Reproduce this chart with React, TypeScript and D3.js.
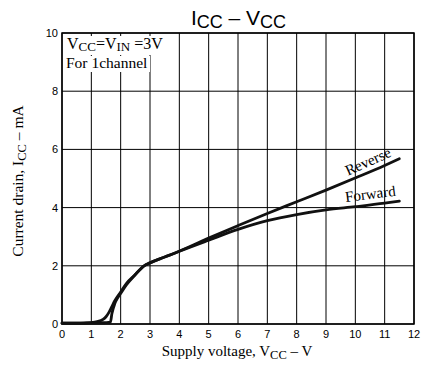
import React from "react";
import * as d3 from "d3";

const xTicks = [0, 1, 2, 3, 4, 5, 6, 7, 8, 9, 10, 11, 12];
const yTicks = [0, 2, 4, 6, 8, 10];
const yGrid = [0, 2, 4, 6, 8, 10];

const forwardV = [0, 0.5, 1.0, 1.5, 1.65, 1.7, 1.8, 1.9, 2.0, 2.2, 2.5, 2.8, 3.0, 3.5, 4, 5, 6, 7, 8, 9, 10, 11, 11.5];
const forwardI = [0.03, 0.03, 0.04, 0.05, 0.06, 0.35, 0.7, 0.9, 1.05, 1.35, 1.7, 2.0, 2.1, 2.3, 2.5, 2.88, 3.25, 3.55, 3.76, 3.92, 4.03, 4.15, 4.22];
const reverseV = [0, 0.5, 1.0, 1.2, 1.4, 1.5, 1.6, 1.7, 1.8, 2.0, 2.2, 2.5, 2.8, 3.0, 3.5, 4, 5, 6, 7, 8, 9, 10, 11, 11.5];
const reverseI = [0.03, 0.03, 0.05, 0.08, 0.16, 0.25, 0.4, 0.6, 0.8, 1.1, 1.4, 1.7, 2.0, 2.1, 2.3, 2.5, 2.95, 3.38, 3.8, 4.2, 4.6, 5.02, 5.45, 5.68];

export default function App() {
  const W = 438, H = 369;
  const L = 62, R = 414, T = 33, B = 324;
  const x = d3.scaleLinear().domain([0, 12]).range([L, R]);
  const y = d3.scaleLinear().domain([0, 10]).range([B, T]);
  const line = d3.line<[number, number]>().x(d => x(d[0])).y(d => y(d[1])).curve(d3.curveMonotoneX);
  const fwd = forwardV.map((v, i) => [v, forwardI[i]] as [number, number]);
  const rev = reverseV.map((v, i) => [v, reverseI[i]] as [number, number]);
  const sans = "Liberation Sans, Arial, sans-serif";
  const serif = "Liberation Serif, Times New Roman, serif";
  return (
    <svg width={W} height={H} style={{ position: "absolute", left: 0, top: 0, background: "#fff" }}>
      <rect x={0} y={0} width={W} height={H} fill="#fff" />
      {xTicks.map(t => (
        <line key={"gx" + t} x1={x(t)} x2={x(t)} y1={T} y2={B} stroke="#000" strokeWidth={1} />
      ))}
      {yGrid.map(t => (
        <line key={"gy" + t} x1={L} x2={R} y1={y(t)} y2={y(t)} stroke="#000" strokeWidth={1} />
      ))}
      <rect x={L} y={T} width={R - L} height={B - T} fill="none" stroke="#000" strokeWidth={1.5} />
      {/* annotation */}
      <rect x={L + 2} y={T + 3} width={108} height={19} fill="#fff" />
      <rect x={L + 2} y={T + 23} width={86} height={16} fill="#fff" />
      <text x={L + 5} y={T + 16} fontFamily={serif} fontSize={16} fill="#000">
        V<tspan fontSize={13} dy={2}>CC</tspan><tspan dy={-2}>=V</tspan><tspan fontSize={13} dy={2}>IN</tspan><tspan dy={-2}> =3V</tspan>
      </text>
      <text x={L + 4} y={T + 35} fontFamily={serif} fontSize={15.5} fill="#000">For 1channel</text>
      {/* curves */}
      <path d={line(rev) || ""} fill="none" stroke="#111" strokeWidth={2.8} strokeLinejoin="round" strokeLinecap="round" />
      <path d={line(fwd) || ""} fill="none" stroke="#111" strokeWidth={2.8} strokeLinejoin="round" strokeLinecap="round" />
      <text transform={`translate(${x(10.5)},${y(5.43)}) rotate(-24)`} textAnchor="middle" fontFamily={serif} fontSize={15} fill="#000">Reverse</text>
      <text transform={`translate(${x(10.53)},${y(4.3)}) rotate(-7)`} textAnchor="middle" fontFamily={serif} fontSize={15} fill="#000">Forward</text>
      {/* ticks */}
      {xTicks.map(t => (
        <text key={"tx" + t} x={x(t)} y={B + 14} textAnchor="middle" fontFamily={sans} fontSize={11} fill="#000">{t}</text>
      ))}
      {yTicks.map(t => (
        <text key={"ty" + t} x={L - 4} y={y(t) + 4} textAnchor="end" fontFamily={sans} fontSize={11} fill="#000">{t}</text>
      ))}
      {/* title */}
      <text x={238.5} y={25} textAnchor="middle" fontFamily={sans} fontSize={21} fill="#000">
        I<tspan fontSize={18} dy={3}>CC</tspan><tspan dy={-3}> – V</tspan><tspan fontSize={18} dy={3}>CC</tspan>
      </text>
      {/* axis labels */}
      <text x={237} y={356} textAnchor="middle" fontFamily={serif} fontSize={15} fill="#000">
        Supply voltage, V<tspan fontSize={12.5} dy={3}>CC</tspan><tspan dy={-3}> – V</tspan>
      </text>
      <text transform={`translate(23,181) rotate(-90)`} textAnchor="middle" fontFamily={serif} fontSize={15.5} fill="#000">
        Current drain, I<tspan fontSize={12.5} dy={3}>CC</tspan><tspan dy={-3}> – mA</tspan>
      </text>
    </svg>
  );
}
